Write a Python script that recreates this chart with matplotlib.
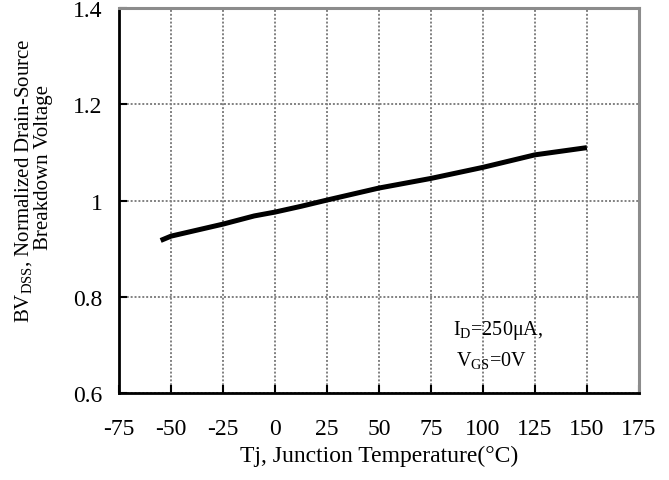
import matplotlib
matplotlib.use("Agg")
import matplotlib.pyplot as plt

plt.rcParams['font.family'] = ['Liberation Serif', 'DejaVu Serif']
plt.rcParams['mathtext.fontset'] = 'custom'
plt.rcParams['mathtext.rm'] = 'Liberation Serif'
plt.rcParams['mathtext.it'] = 'Liberation Serif'
plt.rcParams['axes.unicode_minus'] = False

# curve
temps = [-55, -50, -40, -25, -10, 0, 12.5, 25, 50, 75, 100, 125, 150]
bv_norm = [0.917, 0.926, 0.936, 0.951, 0.968, 0.976, 0.988, 1.001, 1.026, 1.046, 1.069, 1.095, 1.110]

x_ticks = [-75, -50, -25, 0, 25, 50, 75, 100, 125, 150, 175]
y_ticks = [0.6, 0.8, 1.0, 1.2, 1.4]
y_labels = ['0.6', '0.8', '1', '1.2', '1.4']

fig = plt.figure(figsize=(6.69, 4.81), dpi=100)
ax = fig.add_axes([0.178, 0.181, 0.777, 0.800])

ax.plot(temps, bv_norm, color='black', lw=3.6, solid_capstyle='butt', zorder=3)

ax.set_xlim(-75, 175)
ax.set_ylim(0.6, 1.4)
ax.set_xticks(x_ticks)
ax.set_yticks(y_ticks)
ax.set_yticklabels(y_labels)
ax.grid(True, color='#808080', ls=(0, (1, 1)), lw=1.4)
ax.tick_params(direction='in', length=6, width=1.5, labelsize=17, colors='black')
ax.tick_params(axis='x', pad=18)
ax.tick_params(axis='y', pad=12)

for side in ['left', 'bottom']:
    ax.spines[side].set_linewidth(2)
    ax.spines[side].set_color('black')
for side in ['top', 'right']:
    ax.spines[side].set_linewidth(2.2)
    ax.spines[side].set_color('#8c8c8c')

ax.set_xlabel('Tj, Junction Temperature(°C)', fontsize=17, labelpad=4)

# y label: two separately placed lines, as in the reference
fig.text(24 / 669, 1 - 181 / 481, 'BV$_{\\mathrm{DSS}}$, Normalized Drain-Source',
         rotation=90, fontsize=15, ha='center', va='center')
fig.text(44 / 669, 1 - 167 / 481, 'Breakdown Voltage',
         rotation=90, fontsize=15, ha='center', va='center')

ax.text(107.5, 0.731, 'I$_{\\mathrm{D}}$=250μA,', fontsize=14.5, ha='center', va='center')
ax.text(104, 0.670, 'V$_{\\mathrm{GS}}$=0V', fontsize=14.5, ha='center', va='center')

fig.savefig('out.png', dpi=100)
